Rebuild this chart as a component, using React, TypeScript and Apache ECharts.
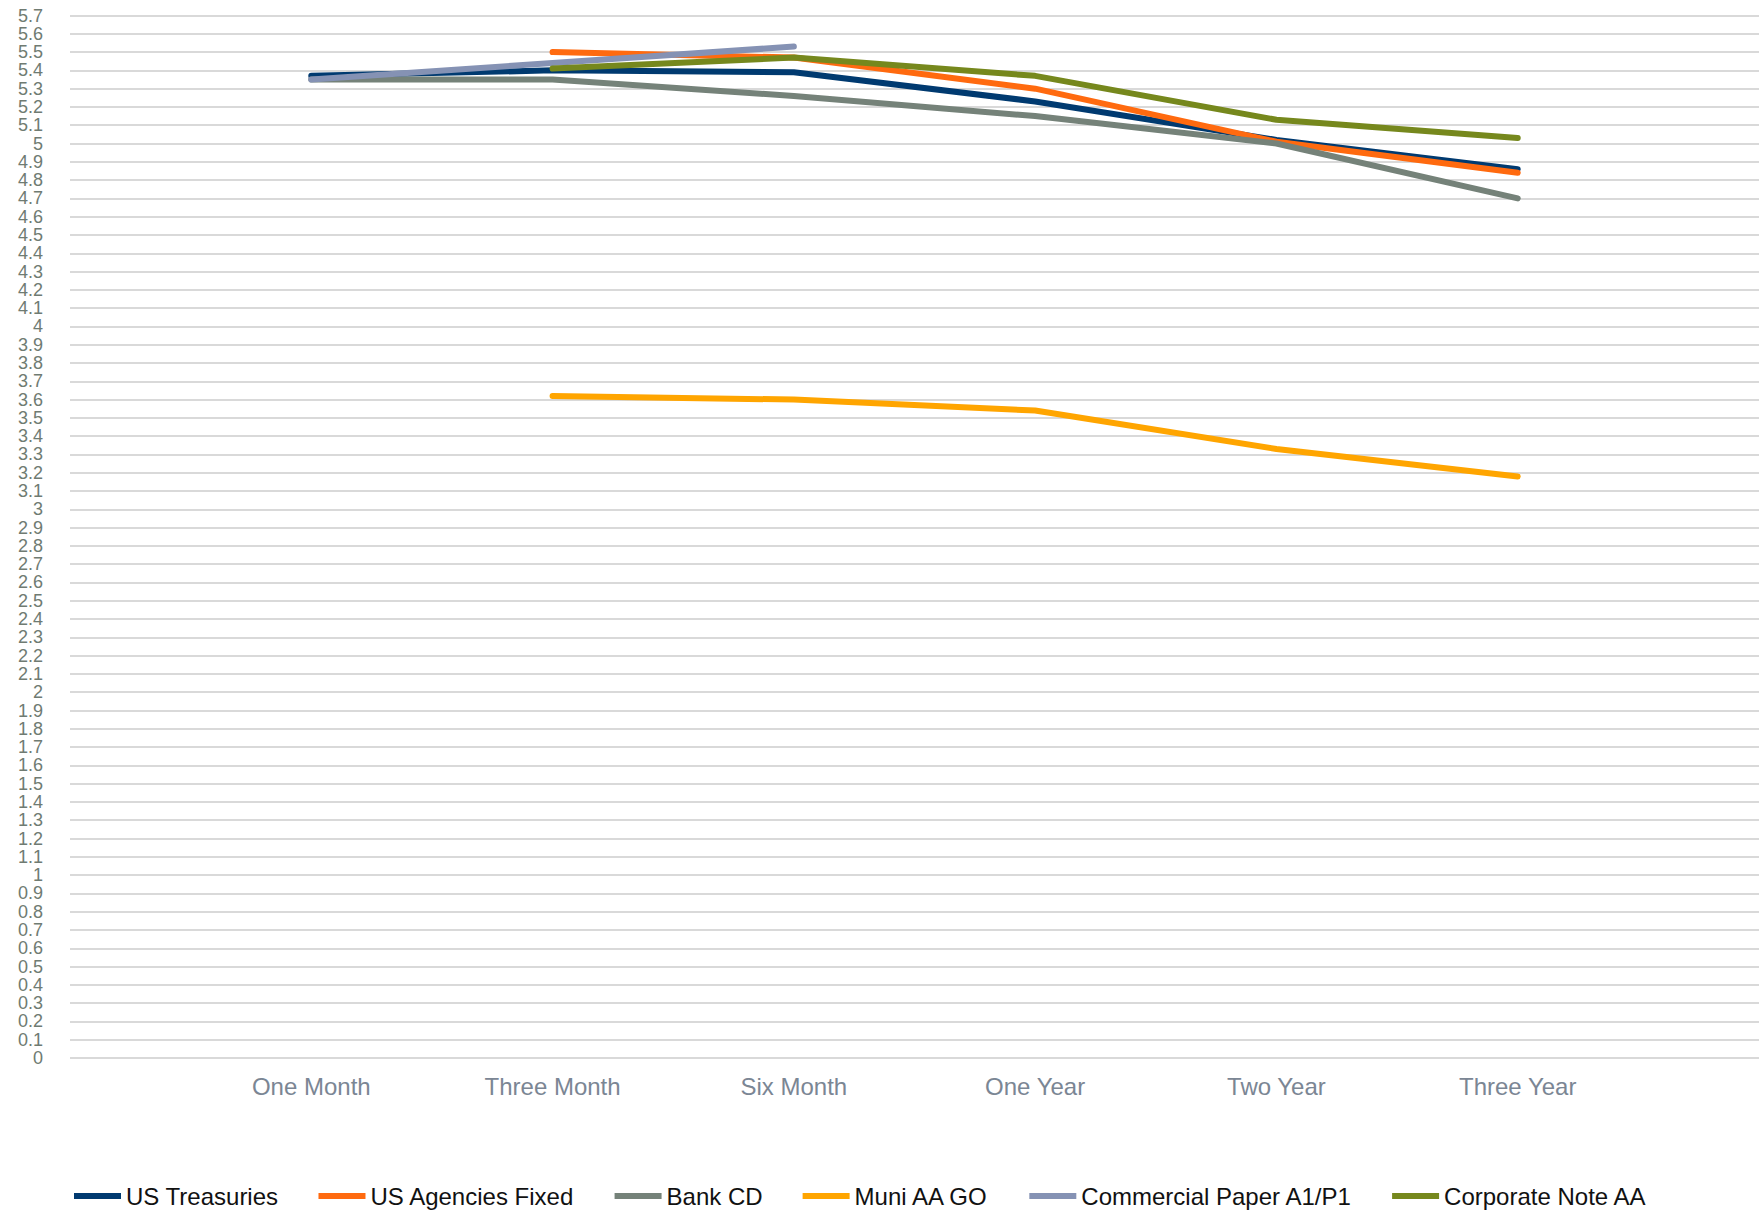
import React, { useEffect, useRef } from "react";
import * as echarts from "echarts";

const categories = ["One Month", "Three Month", "Six Month", "One Year", "Two Year", "Three Year"];

const usTreasuries = [5.37, 5.4, 5.39, 5.23, 5.02, 4.86];
const usAgenciesFixed = [null, 5.5, 5.47, 5.3, 5.01, 4.84];
const bankCD = [5.35, 5.35, 5.26, 5.15, 5.0, 4.7];
const muniAAGO = [null, 3.62, 3.6, 3.54, 3.33, 3.18];
const commercialPaper = [5.35, 5.44, 5.53, null, null, null];
const corporateNoteAA = [null, 5.41, 5.47, 5.37, 5.13, 5.03];

const seriesNames = [
  "US Treasuries",
  "US Agencies Fixed",
  "Bank CD",
  "Muni AA GO",
  "Commercial Paper A1/P1",
  "Corporate Note AA",
];
const seriesData = [usTreasuries, usAgenciesFixed, bankCD, muniAAGO, commercialPaper, corporateNoteAA];
const seriesColors = ["#003a70", "#ff6a0f", "#758279", "#ffa500", "#8592b4", "#76881d"];

const yMin = 0;
const yMax = 5.7;
const yStep = 0.1;

const FONT = "'Liberation Sans', Arial, sans-serif";

export default function App() {
  const ref = useRef<HTMLDivElement>(null);
  useEffect(() => {
    if (!ref.current) return;
    const chart = echarts.init(ref.current, undefined, { renderer: "svg" });
    const paddedCats = ["", ...categories, ""];
    const fmt = (v: number) => String(Math.round(v * 10) / 10);
    const labelBase = {
      fontFamily: FONT,
      fontSize: 18,
      lineHeight: 17,
      color: "#6f7b72",
      margin: 27,
      hideOverlap: false,
    };
    chart.setOption({
      animation: false,
      backgroundColor: "#ffffff",
      grid: { left: 70, right: -4, top: 15.5, bottom: 154, containLabel: false },
      legend: {
        left: 69,
        top: 1179,
        icon: "rect",
        itemWidth: 47,
        itemHeight: 6,
        itemGap: 40,
        textStyle: { fontFamily: FONT, fontSize: 24, color: "#111111" },
        data: seriesNames,
      },
      xAxis: {
        type: "category",
        boundaryGap: false,
        data: paddedCats,
        axisLine: { show: false },
        axisTick: { show: false },
        splitLine: { show: false },
        axisLabel: { fontFamily: FONT, fontSize: 24, color: "#7b8694", margin: 16, interval: 0 },
      },
      yAxis: [
        {
          type: "value",
          min: yMin,
          max: yMax,
          interval: yStep,
          axisLine: { show: false },
          axisTick: { show: false },
          splitLine: { show: true, lineStyle: { color: "#d9d9d9", width: 2 } },
          axisLabel: {
            ...labelBase,
            showMinLabel: false,
            showMaxLabel: false,
            formatter: fmt,
          },
        },
        {
          type: "value",
          position: "left",
          offset: 0,
          min: yMin,
          max: yMax,
          interval: yStep,
          axisLine: { show: false },
          axisTick: { show: false },
          splitLine: { show: false },
          axisLabel: {
            ...labelBase,
            showMinLabel: true,
            showMaxLabel: true,
            formatter: (v: number) =>
              Math.abs(v - yMin) < 1e-9 || Math.abs(v - yMax) < 1e-9 ? fmt(v) : "",
          },
        },
      ],
      series: seriesNames.map((name, i) => ({
        name,
        type: "line",
        yAxisIndex: 0,
        data: [null, ...seriesData[i], null],
        showSymbol: false,
        symbol: "none",
        connectNulls: false,
        color: seriesColors[i],
        lineStyle: { color: seriesColors[i], width: 6, cap: "round", join: "round" },
      })),
    });
    return () => chart.dispose();
  }, []);
  return (
    <div
      ref={ref}
      style={{ position: "fixed", left: 0, top: 0, width: 1762, height: 1212 }}
    />
  );
}
